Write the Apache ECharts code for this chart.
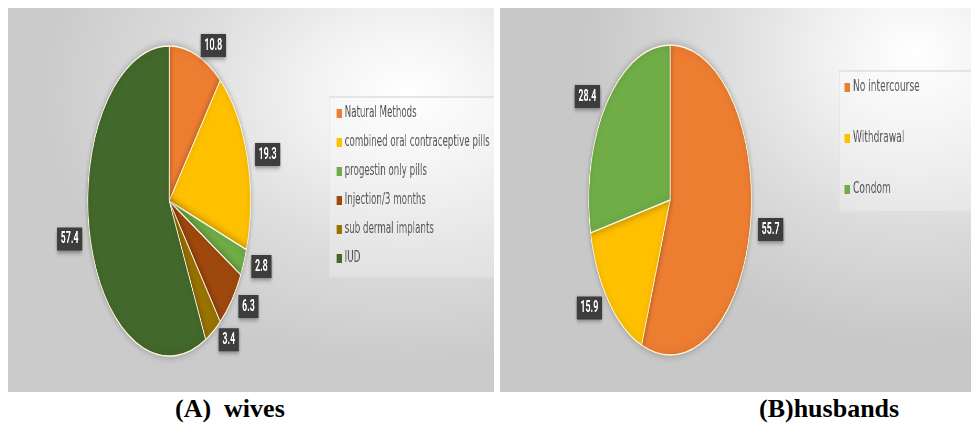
<!DOCTYPE html>
<html>
<head>
<meta charset="utf-8">
<script src="https://cdn.jsdelivr.net/npm/echarts@6/dist/echarts.min.js"></script>
<style>
  body { margin: 0; background: #fff; width: 973px; height: 424px; position: relative; overflow: hidden; }
  .panel { position: absolute; top: 8px; height: 384px; overflow: hidden; }
  #panelA { left: 8px; width: 486px;
    background: radial-gradient(ellipse 75% 70% at 82% 22%, #ffffff 0%, #f3f3f3 25%, #dddddd 60%, #cbcbcb 100%); }
  #panelB { left: 500px; width: 471px;
    background: radial-gradient(ellipse 70% 75% at 88% 12%, #ffffff 0%, #f2f2f2 25%, #dcdcdc 60%, #c8c8c8 100%); }
  .squeeze { position: absolute; top: 0; transform-origin: 0 0; }
  .caption { position: absolute; top: 394px; font: bold 26px "Liberation Serif", "Times New Roman", serif; color: #000; white-space: pre; }
</style>
</head>
<body>
<div id="panelA" class="panel">
  <div id="pieA" class="squeeze" style="left:0; width:926px; height:384px; transform:scaleX(0.525)"></div>
  <div id="legA" class="squeeze" style="left:321px; width:290px; height:384px; transform:scaleX(0.58)"></div>
</div>
<div id="panelB" class="panel">
  <div id="pieB" class="squeeze" style="left:0; width:897px; height:384px; transform:scaleX(0.525)"></div>
  <div id="legB" class="squeeze" style="left:339px; width:225px; height:384px; transform:scaleX(0.607)"></div>
</div>
<div class="caption" style="left:175px">(A)  wives</div>
<div class="caption" style="left:759px">(B)husbands</div>

<script>
// wives
const wifeMethods = ['Natural Methods', 'combined oral contraceptive pills', 'progestin only pills', 'Injection/3 months', 'sub dermal implants', 'IUD']
const wifeValues = [10.8, 19.3, 2.8, 6.3, 3.4, 57.4]
const wifeColors = ['#ED7D31', '#FFC000', '#70AD47', '#9E480E', '#997300', '#43682B']

// husbands
const husbandMethods = ['No intercourse', 'Withdrawal', 'Condom']
const husbandValues = [55.7, 15.9, 28.4]
const husbandColors = ['#ED7D31', '#FFC000', '#70AD47']

const toData = (names, values) => names.map((name, i) => ({ name, value: values[i] }))

// pie with dark value boxes
const pieOption = (names, values, colors, center) => ({
  animation: false,
  color: colors,
  series: [{
    type: 'pie',
    center,
    radius: 155,
    startAngle: 90,
    clockwise: true,
    avoidLabelOverlap: false,
    data: toData(names, values),
    itemStyle: {
      borderColor: '#fdf8e1',
      borderWidth: 1.5,
      shadowBlur: 8,
      shadowColor: 'rgba(0,0,0,0.25)'
    },
    label: {
      show: true,
      position: 'outside',
      formatter: '{c}',
      color: '#fff',
      fontFamily: 'Roboto',
      fontWeight: 'bold',
      fontSize: 17,
      backgroundColor: '#3d3d3d',
      padding: [3, 7],
      shadowBlur: 5,
      shadowColor: 'rgba(0,0,0,0.45)',
      shadowOffsetY: 2
    },
    labelLine: { show: false, length: 10, length2: 0 },
    emphasis: { disabled: true }
  }]
})

// legend only, the pie itself is kept off screen
const legendOption = (names, values, colors, gap, padding) => ({
  animation: false,
  color: colors,
  legend: {
    orient: 'vertical',
    left: 0,
    top: padding.top,
    icon: 'rect',
    itemWidth: 9,
    itemHeight: 9,
    itemGap: gap,
    padding: padding.box,
    borderColor: '#dedede',
    borderWidth: 1.5,
    backgroundColor: 'rgba(255,255,255,0.25)',
    selectedMode: false,
    textStyle: { color: '#555555', fontSize: 15, fontFamily: 'DejaVu Sans' }
  },
  series: [{
    type: 'pie',
    center: [-500, -500],
    radius: 1,
    label: { show: false },
    data: toData(names, values)
  }]
})

echarts.init(document.getElementById('pieA')).setOption(pieOption(wifeMethods, wifeValues, wifeColors, [307, 193]))
echarts.init(document.getElementById('pieB')).setOption(pieOption(husbandMethods, husbandValues, husbandColors, [324, 192]))
echarts.init(document.getElementById('legA')).setOption(legendOption(wifeMethods, wifeValues, wifeColors, 14, { top: 89, box: [9, 9, 11, 13] }))
echarts.init(document.getElementById('legB')).setOption(legendOption(husbandMethods, husbandValues, husbandColors, 36, { top: 63, box: [9, 110, 15, 9] }))
</script>
</body>
</html>
